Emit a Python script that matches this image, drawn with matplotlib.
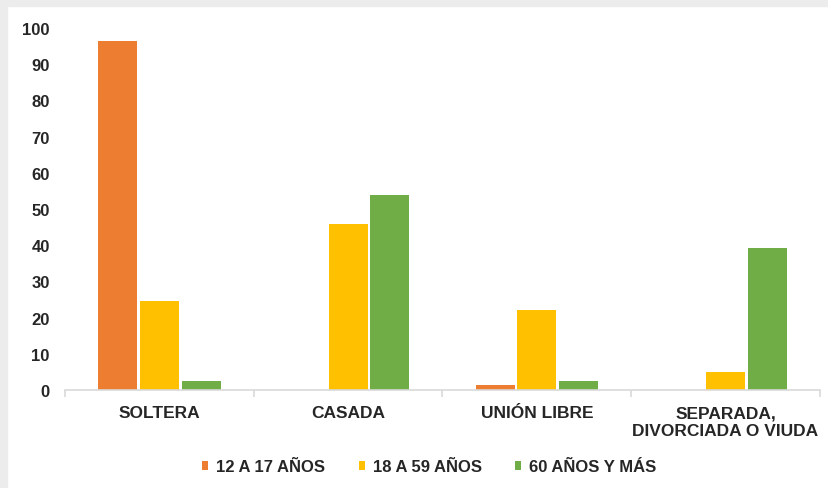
import matplotlib
matplotlib.use("Agg")
import matplotlib.pyplot as plt
import numpy as np
from matplotlib.patches import Rectangle

categories = ["SOLTERA", "CASADA", "UNIÓN LIBRE", "SEPARADA,\nDIVORCIADA O VIUDA"]
series_names = ["12 A 17 AÑOS", "18 A 59 AÑOS", "60 AÑOS Y MÁS"]
v_12_17 = [96.4, 0.0, 1.5, 0.0]
v_18_59 = [24.7, 45.8, 22.1, 4.9]
v_60_mas = [2.6, 53.9, 2.6, 39.2]
colors = ["#ED7D31", "#FFC000", "#70AD47"]
yticks = [0, 10, 20, 30, 40, 50, 60, 70, 80, 90, 100]

plt.rcParams["font.family"] = ["Liberation Sans", "DejaVu Sans"]
plt.rcParams["font.weight"] = "bold"

fig = plt.figure(figsize=(8.29, 4.89), dpi=100)
fig.patch.set_facecolor("white")
ax = fig.add_axes([0.0784, 1 - 391 / 489, 0.9106, (391 - 29) / 489])

x = np.arange(len(categories))
pitch = 0.221
width = 0.207
for i, (vals, name, c) in enumerate(zip([v_12_17, v_18_59, v_60_mas], series_names, colors)):
    ax.bar(x + (i - 1) * pitch, vals, width=width, color=c, label=name, zorder=2)

ax.set_xlim(-0.5, len(categories) - 0.5)
ax.set_ylim(0, 100)
ax.set_yticks(yticks)
ax.set_yticklabels([str(t) for t in yticks], fontsize=12, fontweight="bold", color="#262626")
ax.set_xticks(x)
ax.set_xticklabels(categories, fontsize=12.5, fontweight="bold", color="#262626", linespacing=1.2)
ax.set_xticks(np.arange(len(categories) + 1) - 0.5, minor=True)
ax.tick_params(axis="x", which="major", length=0, pad=11)
ax.tick_params(axis="x", which="minor", length=5, color="#d9d9d9", width=1.2)
ax.tick_params(axis="y", length=0, pad=11)
for s in ["top", "right", "left"]:
    ax.spines[s].set_visible(False)
ax.spines["bottom"].set_color("#d9d9d9")
ax.spines["bottom"].set_linewidth(1.2)

leg = fig.legend(loc="center", bbox_to_anchor=(0.518, 0.043), ncol=3, frameon=False,
                 fontsize=12, handlelength=0.35, handleheight=0.45, handletextpad=0.5,
                 columnspacing=2.0)
for t in leg.get_texts():
    t.set_color("#262626")
    t.set_fontweight("bold")

# faint gray screenshot border
fig.patches.append(Rectangle((0, 0.985), 1, 0.015, transform=fig.transFigure, color="#ececec", zorder=-1))
fig.patches.append(Rectangle((0, 0), 0.009, 1, transform=fig.transFigure, color="#ececec", zorder=-1))

fig.savefig("out.png", dpi=100, facecolor="white")
